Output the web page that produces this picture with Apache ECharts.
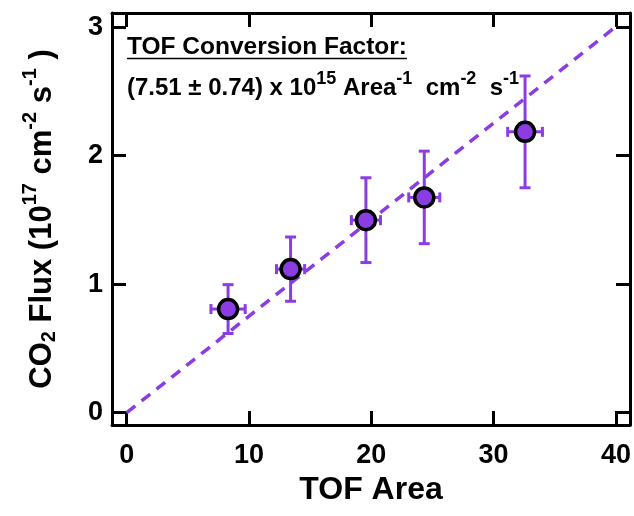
<!DOCTYPE html>
<html><head><meta charset="utf-8">
<script src="https://cdn.jsdelivr.net/npm/echarts@6/dist/echarts.min.js"></script>
<style>html,body{margin:0;padding:0;background:#fff}#c{width:634px;height:516px}</style>
</head><body><div id="c"></div>
<script>
// ---- data ----
const tofArea   = [8.29, 13.40, 19.56, 24.33, 32.57];
const areaErr   = [1.40, 1.15, 1.19, 1.27, 1.42];
const co2Flux   = [0.806, 1.117, 1.498, 1.675, 2.185];
const fluxErr   = [0.19, 0.25, 0.33, 0.36, 0.435];
const fitLineX  = [0, 40];
const fitLineY  = [0, 3.004];
const xTicks    = [0, 10, 20, 30, 40];
const yTicks    = [0, 1, 2, 3];

const PURPLE = '#8b3de3';
const FONT = '"Liberation Sans", Arial, Helvetica, sans-serif';
const xMin = -1.2, xMax = 41.15, yMin = -0.096, yMax = 3.11;

const chart = echarts.init(document.getElementById('c'), null, {renderer: 'canvas'});

function axis(pos, isX, showLabel) {
  const ticks = isX ? xTicks : yTicks;
  return {
    type: 'value', position: pos,
    min: isX ? xMin : yMin, max: isX ? xMax : yMax,
    axisLine: {show: true, onZero: false, lineStyle: {color: '#000', width: 3}},
    axisTick: {show: true, inside: true, length: 14, customValues: ticks, lineStyle: {color: '#000', width: 3}},
    axisLabel: {show: showLabel, customValues: ticks, fontSize: 27, fontWeight: 'bold', color: '#000', fontFamily: FONT, margin: isX ? 17 : 9},
    splitLine: {show: false}
  };
}

const errData = tofArea.map((x, i) => [x, co2Flux[i], x - areaErr[i], x + areaErr[i], co2Flux[i] - fluxErr[i], co2Flux[i] + fluxErr[i]]);

const xBottom = axis('bottom', true, true);
xBottom.name = 'TOF Area';
xBottom.nameLocation = 'middle';
xBottom.nameGap = 41;
xBottom.nameTextStyle = {fontSize: 32, fontWeight: 'bold', color: '#000', fontFamily: FONT};

const yLeft = axis('left', false, true);
yLeft.name = 'CO{sub|2} Flux (10{sup|17} cm{sup|-2} s{sup|-1} )';
yLeft.nameLocation = 'middle';
yLeft.nameRotate = 90;
yLeft.nameGap = 48;
yLeft.nameTextStyle = {
  fontSize: 31, fontWeight: 'bold', color: '#000', fontFamily: FONT,
  rich: {
    sup: {fontSize: 20, fontWeight: 'bold', color: '#000', fontFamily: FONT, padding: [0, 0, 24, 0]},
    sub: {fontSize: 20, fontWeight: 'bold', color: '#000', fontFamily: FONT, padding: [14, 0, 0, 0]}
  }
};

const option = {
  animation: false,
  backgroundColor: '#fff',
  grid: {left: 112, right: 4, top: 13, bottom: 91, containLabel: false},
  xAxis: [xBottom, axis('top', true, false)],
  yAxis: [yLeft, axis('right', false, false)],
  graphic: [
    {type: 'text', left: 127, top: 35, z: 10,
     style: {text: 'TOF Conversion Factor:', font: 'bold 24.5px ' + FONT, fill: '#000'}},
    {type: 'line', z: 10, shape: {x1: 127, y1: 58.5, x2: 407, y2: 58.5}, style: {stroke: '#000', lineWidth: 1.5}},
    {type: 'text', left: 127, top: 70, z: 10,
     style: {
       text: '(7.51 ± 0.74) x 10{sup|15} Area{sup|-1}  cm{sup|-2}  s{sup|-1}',
       font: 'bold 24px ' + FONT, fill: '#000',
       rich: {sup: {font: 'bold 18px ' + FONT, fill: '#000', padding: [0, 0, 18, 0]}}
     }}
  ],
  series: [
    {type: 'line', data: fitLineX.map((x, i) => [x, fitLineY[i]]), showSymbol: false, symbol: 'none',
     lineStyle: {color: PURPLE, width: 3.5, type: [11, 8]}, z: 1, silent: true},
    {type: 'custom', data: errData, z: 2, silent: true,
     renderItem: function (params, api) {
       const c = api.coord([api.value(0), api.value(1)]);
       const xl = api.coord([api.value(2), api.value(1)]);
       const xh = api.coord([api.value(3), api.value(1)]);
       const yl = api.coord([api.value(0), api.value(4)]);
       const yh = api.coord([api.value(0), api.value(5)]);
       const st = {stroke: PURPLE, lineWidth: 3};
       const cw = 5.5, ch = 5;
       return {type: 'group', children: [
         {type: 'line', shape: {x1: c[0], y1: yl[1], x2: c[0], y2: yh[1]}, style: st},
         {type: 'line', shape: {x1: c[0] - cw, y1: yl[1], x2: c[0] + cw, y2: yl[1]}, style: st},
         {type: 'line', shape: {x1: c[0] - cw, y1: yh[1], x2: c[0] + cw, y2: yh[1]}, style: st},
         {type: 'line', shape: {x1: xl[0], y1: c[1], x2: xh[0], y2: c[1]}, style: st},
         {type: 'line', shape: {x1: xl[0], y1: c[1] - ch, x2: xl[0], y2: c[1] + ch}, style: st},
         {type: 'line', shape: {x1: xh[0], y1: c[1] - ch, x2: xh[0], y2: c[1] + ch}, style: st}
       ]};
     }},
    {type: 'scatter', data: tofArea.map((x, i) => [x, co2Flux[i]]), symbol: 'circle', symbolSize: 19, z: 3,
     itemStyle: {color: PURPLE, borderColor: '#000', borderWidth: 3.5, opacity: 1}}
  ]
};
chart.setOption(option);
</script>
</body></html>
